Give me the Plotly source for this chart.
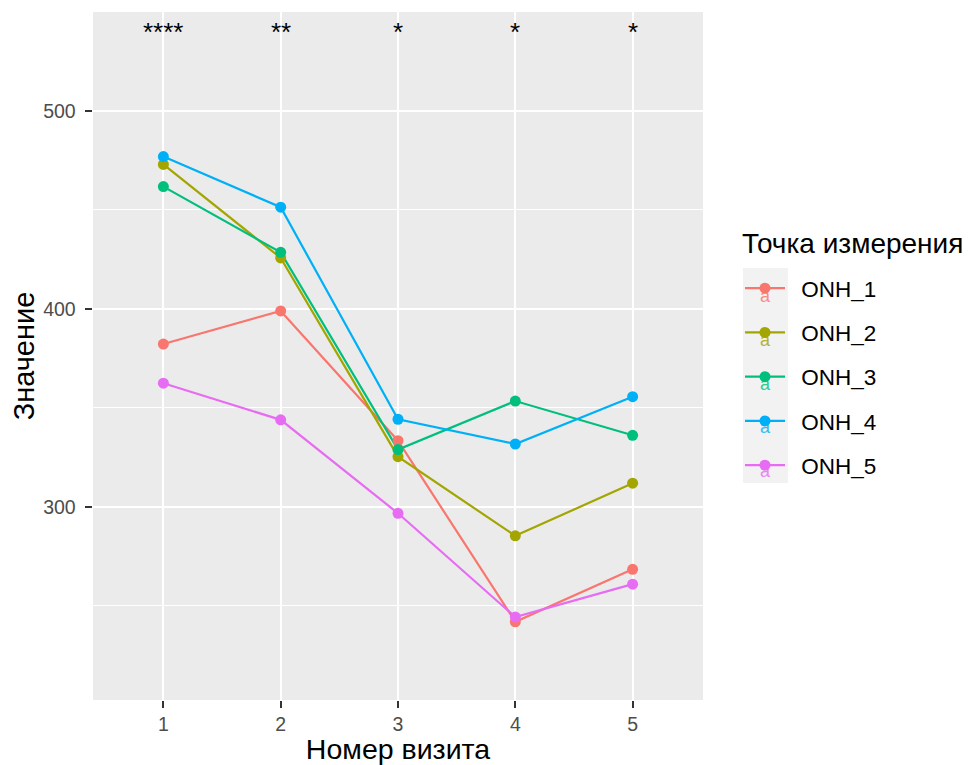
import plotly.graph_objects as go

visits = [1, 2, 3, 4, 5]
series_names = ["ONH_1", "ONH_2", "ONH_3", "ONH_4", "ONH_5"]
onh_1 = [382.3, 399.0, 333.5, 242.0, 268.5]
onh_2 = [473.0, 425.8, 325.4, 285.4, 312.0]
onh_3 = [461.8, 428.6, 329.0, 353.5, 336.2]
onh_4 = [477.0, 451.4, 344.3, 331.8, 355.7]
onh_5 = [362.5, 344.0, 296.8, 244.4, 261.0]
y_ticks = [300, 400, 500]
sig_labels = ["****", "**", "*", "*", "*"]
sig_y = [542.5, 542.5, 542.5, 542.5, 542.5]
colors = ["#F8766D", "#A3A500", "#00BF7D", "#00B0F6", "#E76BF3"]
legend_title = "Точка измерения"

all_values = [onh_1, onh_2, onh_3, onh_4, onh_5]

FONT = "Liberation Sans, Arial, sans-serif"

OFF = 8
W, H = 976 - OFF, 765 - OFF
px0, px1, py0, py1 = 93, 703, 12, 700

def pxx(v):
    return (v - px0) / (px1 - px0)
def pyy(v):
    return (py1 - v) / (py1 - py0)

fig = go.Figure()

for name, vals, col in zip(series_names, all_values, colors):
    fig.add_trace(go.Scatter(x=visits, y=vals, mode="lines", line=dict(color=col, width=2.2),
                             showlegend=False, legendgroup=name, hoverinfo="skip"))
for name, vals, col in zip(series_names, all_values, colors):
    fig.add_trace(go.Scatter(x=visits, y=vals, mode="markers", marker=dict(color=col, size=11),
                             showlegend=False, legendgroup=name, name=name))
for name, col in zip(series_names, colors):
    fig.add_trace(go.Scatter(x=[None], y=[None], mode="lines+markers", name="\u2002" + name,
                             legendgroup=name,
                             line=dict(color=col, width=2.2), marker=dict(color=col, size=11)))

for xv, lab, yv in zip(visits, sig_labels, sig_y):
    fig.add_annotation(x=xv, y=yv, text=lab, showarrow=False, xref="x", yref="y", yanchor="middle",
                       yshift=-5, font=dict(family=FONT, size=26, color="black"))

fig.add_annotation(x=pxx(740), y=pyy(243), xref="paper", yref="paper", xanchor="left", yanchor="middle",
                   text=legend_title, showarrow=False, font=dict(family=FONT, size=28, color="black"))

fig.add_shape(type="rect", xref="paper", yref="paper", x0=pxx(743), x1=pxx(788), y0=pyy(483), y1=pyy(268),
              fillcolor="#F2F2F2", line=dict(width=0), layer="below")

key_y0, key_step = 290, 43.75
for i, col in enumerate(colors):
    fig.add_annotation(x=pxx(765), y=pyy(key_y0 + i * key_step + 6), xref="paper", yref="paper",
                       text="a", showarrow=False, xanchor="center", yanchor="middle",
                       font=dict(family=FONT, size=18, color=col), opacity=0.8)

fig.update_layout(
    width=W, height=H,
    margin=dict(l=px0 - OFF, r=W - (px1 - OFF), t=py0 - OFF, b=H - (py1 - OFF)),
    paper_bgcolor="white", plot_bgcolor="#EBEBEB",
    font=dict(family=FONT),
    legend=dict(
        font=dict(family=FONT, size=22.5, color="black"),
        x=pxx(740), xanchor="left", y=pyy(267), yanchor="top",
        bgcolor="rgba(0,0,0,0)", tracegroupgap=12, itemwidth=40,
    ),
    xaxis=dict(
        range=[0.4, 5.6], tickvals=visits, ticktext=[str(v) for v in visits],
        showgrid=True, gridcolor="white", gridwidth=2, zeroline=False, automargin=False,
        ticks="outside", ticklen=7, tickwidth=2, tickcolor="#333333",
        tickfont=dict(family=FONT, size=19.5, color="#4D4D4D"),
        title=dict(text="Номер визита", font=dict(family=FONT, size=28.5, color="black"), standoff=10),
        showline=False,
    ),
    yaxis=dict(
        range=[202.5, 550], tickvals=y_ticks, ticktext=[f"{v}\u00a0" for v in y_ticks],
        showgrid=True, gridcolor="white", gridwidth=2, zeroline=False, automargin=False,
        minor=dict(tickvals=[250, 350, 450], showgrid=True, gridcolor="white", gridwidth=1, ticks=""),
        ticks="outside", ticklen=7, tickwidth=2, tickcolor="#333333",
        tickfont=dict(family=FONT, size=19.5, color="#4D4D4D"),
        title=dict(text="Значение", font=dict(family=FONT, size=29, color="black"), standoff=4),
        showline=False,
    ),
)

fig.write_html("out.html")
